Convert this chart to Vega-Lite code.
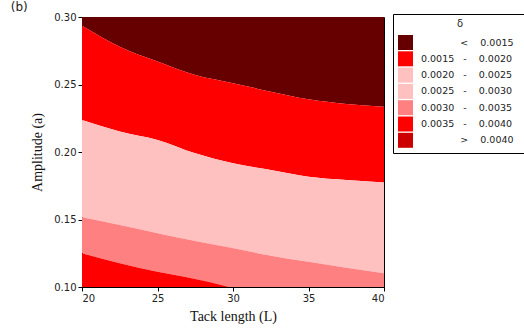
{
  "$schema": "https://vega.github.io/schema/vega-lite/v6.json",
  "autosize": "none",
  "width": 302,
  "height": 270,
  "padding": {"left": 82, "top": 17, "right": 140, "bottom": 42},
  "background": "white",
  "title": {"text": "(b)", "anchor": "start", "frame": "bounds", "orient": "top", "dx": -20, "dy": 4, "offset": 2, "font": "DejaVu Sans", "fontSize": 12, "fontWeight": "normal", "color": "#222"},
  "config": {
    "view": {"stroke": "black", "strokeWidth": 1},
    "axis": {"grid": false, "domainColor": "black", "tickColor": "black", "tickSize": 4, "labelFont": "DejaVu Sans", "labelFontSize": 10, "labelColor": "#222", "titleFont": "Liberation Serif", "titleFontSize": 14, "titleFontWeight": "normal", "titleColor": "#111"}
  },
  "data": {"values": [
    {"k": "a", "x": 20, "lo": 0.2935, "hi": 0.30},
    {"k": "a", "x": 22.5, "lo": 0.278, "hi": 0.30},
    {"k": "a", "x": 25, "lo": 0.267, "hi": 0.30},
    {"k": "a", "x": 27.5, "lo": 0.257, "hi": 0.30},
    {"k": "a", "x": 30, "lo": 0.251, "hi": 0.30},
    {"k": "a", "x": 32.5, "lo": 0.2447, "hi": 0.30},
    {"k": "a", "x": 35, "lo": 0.239, "hi": 0.30},
    {"k": "a", "x": 37.5, "lo": 0.2356, "hi": 0.30},
    {"k": "a", "x": 40, "lo": 0.2336, "hi": 0.30},
    {"k": "b", "x": 20, "lo": 0.2237, "hi": 0.2935},
    {"k": "b", "x": 22.5, "lo": 0.2152, "hi": 0.278},
    {"k": "b", "x": 25, "lo": 0.2089, "hi": 0.267},
    {"k": "b", "x": 27.5, "lo": 0.199, "hi": 0.257},
    {"k": "b", "x": 30, "lo": 0.1916, "hi": 0.251},
    {"k": "b", "x": 32.5, "lo": 0.1867, "hi": 0.2447},
    {"k": "b", "x": 35, "lo": 0.1817, "hi": 0.239},
    {"k": "b", "x": 37.5, "lo": 0.1793, "hi": 0.2356},
    {"k": "b", "x": 40, "lo": 0.1775, "hi": 0.2336},
    {"k": "d", "x": 20, "lo": 0.1516, "hi": 0.2237},
    {"k": "d", "x": 22.5, "lo": 0.1459, "hi": 0.2152},
    {"k": "d", "x": 25, "lo": 0.1398, "hi": 0.2089},
    {"k": "d", "x": 27.5, "lo": 0.1341, "hi": 0.199},
    {"k": "d", "x": 30, "lo": 0.1287, "hi": 0.1916},
    {"k": "d", "x": 32.5, "lo": 0.1232, "hi": 0.1867},
    {"k": "d", "x": 35, "lo": 0.1187, "hi": 0.1817},
    {"k": "d", "x": 37.5, "lo": 0.1143, "hi": 0.1793},
    {"k": "d", "x": 40, "lo": 0.1101, "hi": 0.1775},
    {"k": "e", "x": 20, "lo": 0.125, "hi": 0.1516},
    {"k": "e", "x": 22.5, "lo": 0.1176, "hi": 0.1459},
    {"k": "e", "x": 25, "lo": 0.1113, "hi": 0.1398},
    {"k": "e", "x": 27.5, "lo": 0.1059, "hi": 0.1341},
    {"k": "e", "x": 29.7, "lo": 0.10, "hi": 0.1294},
    {"k": "e", "x": 32.5, "lo": 0.10, "hi": 0.1232},
    {"k": "e", "x": 35, "lo": 0.10, "hi": 0.1187},
    {"k": "e", "x": 37.5, "lo": 0.10, "hi": 0.1143},
    {"k": "e", "x": 40, "lo": 0.10, "hi": 0.1101},
    {"k": "f", "x": 20, "lo": 0.10, "hi": 0.125},
    {"k": "f", "x": 22.5, "lo": 0.10, "hi": 0.1176},
    {"k": "f", "x": 25, "lo": 0.10, "hi": 0.1113},
    {"k": "f", "x": 27.5, "lo": 0.10, "hi": 0.1059},
    {"k": "f", "x": 29.7, "lo": 0.10, "hi": 0.10}
  ]},
  "mark": {"type": "area", "interpolate": "monotone", "clip": true},
  "encoding": {
    "x": {"field": "x", "type": "quantitative", "scale": {"domain": [20, 40], "nice": false, "zero": false}, "axis": {"values": [20, 25, 30, 35, 40], "title": "Tack length (L)", "titlePadding": 6}},
    "y": {"field": "lo", "type": "quantitative", "scale": {"domain": [0.1, 0.3], "nice": false, "zero": false}, "axis": {"values": [0.1, 0.15, 0.2, 0.25, 0.3], "format": ".2f", "title": "Amplitude (a)", "titlePadding": 9}},
    "y2": {"field": "hi"},
    "color": {
      "field": "k", "type": "nominal",
      "scale": {"domain": ["a", "b", "c", "d", "e", "f", "g"], "range": ["#660000", "#ff0000", "#ffc0c0", "#ffc0c0", "#ff8080", "#ff0000", "#cc0000"]},
      "legend": {
        "orient": "none", "legendX": 311, "legendY": -3,
        "title": "δ", "titleAnchor": "middle", "titleFont": "DejaVu Sans", "titleFontSize": 10, "titleFontWeight": "normal", "titleColor": "#222", "titlePadding": 6,
        "strokeColor": "black", "fillColor": "white", "padding": 5,
        "symbolType": "square", "symbolSize": 225, "symbolStrokeWidth": 0, "symbolOpacity": 1,
        "rowPadding": 1.3, "labelOffset": 8,
        "labelFont": "DejaVu Sans", "labelFontSize": 9.5, "labelColor": "#222", "labelLimit": 200,
        "labelExpr": "{'a': '\u200b\u00a0\u00a0\u00a0\u00a0\u00a0\u00a0\u00a0\u00a0\u00a0\u00a0\u00a0\u00a0\u00a0<\u00a0\u00a0\u00a0\u00a00.0015\u00a0\u00a0\u00a0\u200b', 'b': '0.0015\u00a0\u00a0\u00a0-\u00a0\u00a0\u00a0\u00a00.0020\u00a0\u00a0\u00a0\u200b', 'c': '0.0020\u00a0\u00a0\u00a0-\u00a0\u00a0\u00a0\u00a00.0025\u00a0\u00a0\u00a0\u200b', 'd': '0.0025\u00a0\u00a0\u00a0-\u00a0\u00a0\u00a0\u00a00.0030\u00a0\u00a0\u00a0\u200b', 'e': '0.0030\u00a0\u00a0\u00a0-\u00a0\u00a0\u00a0\u00a00.0035\u00a0\u00a0\u00a0\u200b', 'f': '0.0035\u00a0\u00a0\u00a0-\u00a0\u00a0\u00a0\u00a00.0040\u00a0\u00a0\u00a0\u200b', 'g': '\u200b\u00a0\u00a0\u00a0\u00a0\u00a0\u00a0\u00a0\u00a0\u00a0\u00a0\u00a0\u00a0\u00a0>\u00a0\u00a0\u00a0\u00a00.0040\u00a0\u00a0\u00a0\u200b'}[datum.label]"
      }
    }
  }
}
